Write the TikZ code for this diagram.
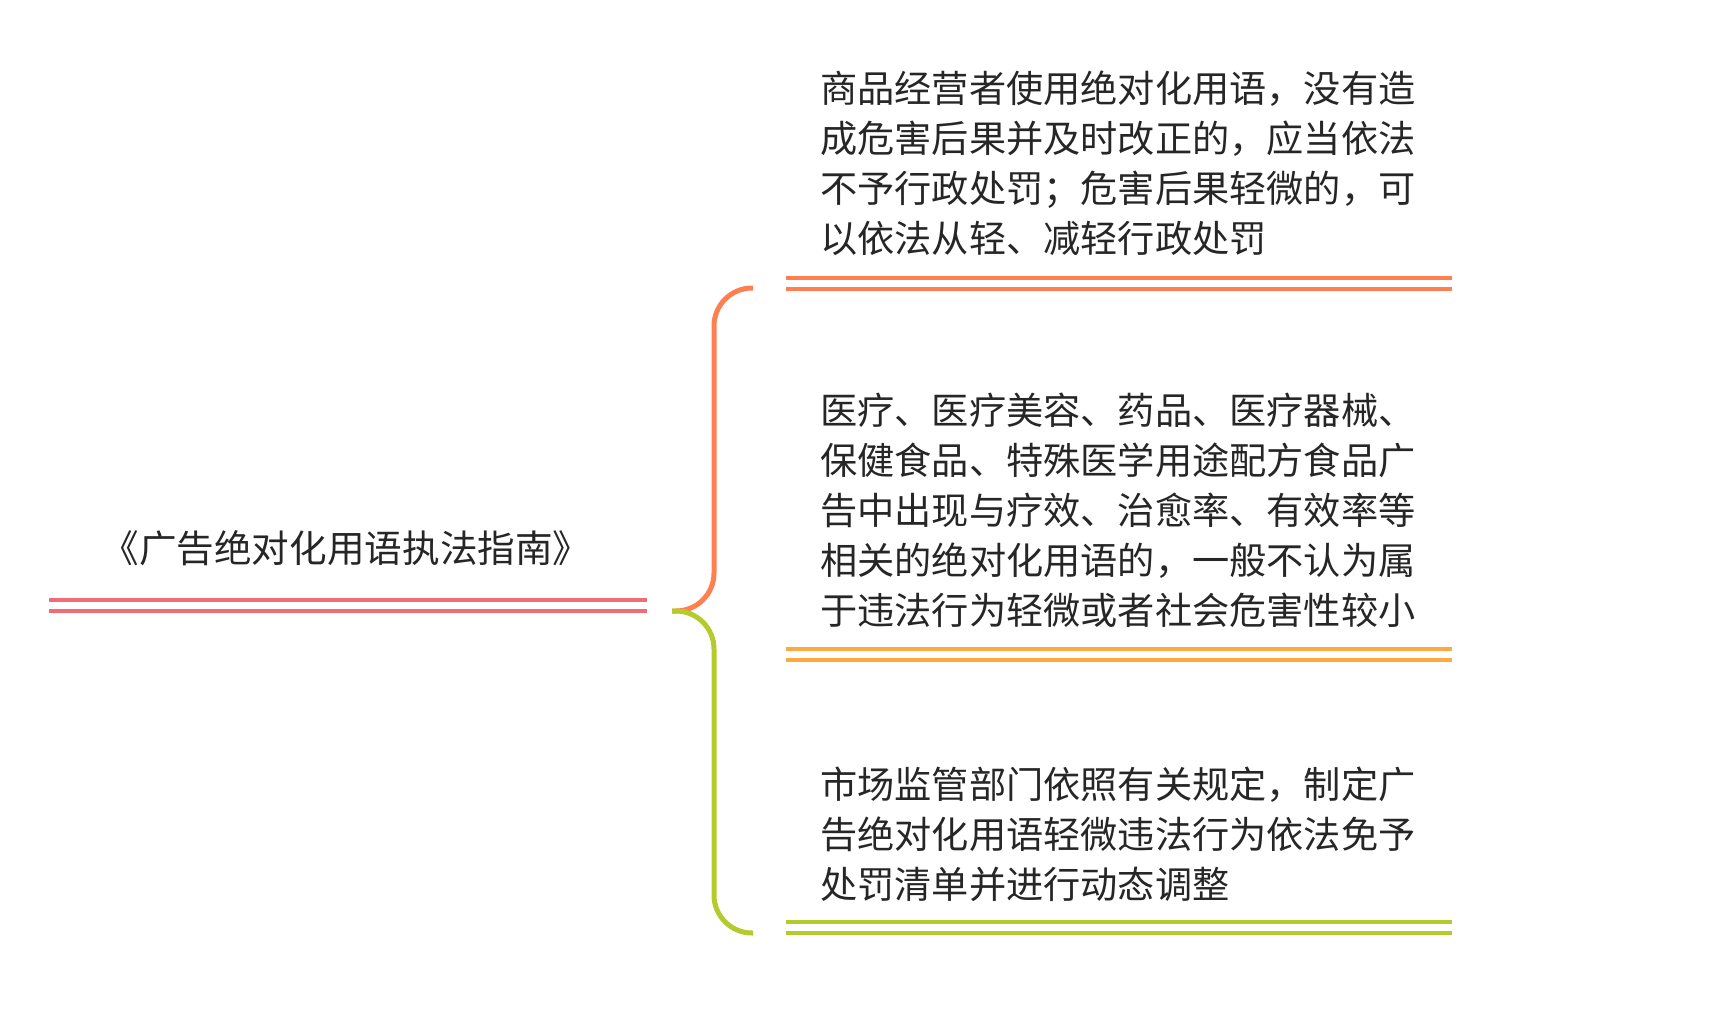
\documentclass[tikz,border=0pt]{standalone}
\usepackage{fontspec}
\newfontfamily\cjk{Noto Sans CJK SC}
\usetikzlibrary{calc}
\definecolor{RootClr}{HTML}{F16C74}
\definecolor{TopClr}{HTML}{FF7F50}
\definecolor{MidClr}{HTML}{FFA940}
\definecolor{LowClr}{HTML}{B5CA2B}

\begin{document}
\begin{tikzpicture}[x=1bp,y=-1bp,
  uline/.style={line width=4bp,double=white,double distance=7bp},
  brace/.style={line width=5bp,rounded corners=38bp},
  txt/.style={inner sep=0pt,anchor=north west,align=left,text=black!85,
    font=\cjk\fontsize{37.2bp}{50bp}\selectfont}]
\useasboundingbox (0,0) rectangle (1729,1022);

\coordinate (rootA) at (49,605.5);
\coordinate (rootB) at (647,605.5);
\coordinate (tip) at (672,611);
\coordinate (topEnd) at (753,288);
\coordinate (lowEnd) at (753,933);

\node[txt,anchor=center,font=\cjk\fontsize{37.6bp}{50bp}\selectfont] (root) at (346,548) {《广告绝对化用语执法指南》};
\draw[uline,RootClr] (rootA) -- (rootB);

\node[txt] (rule1) at (820,71) {商品经营者使用绝对化用语，没有造\\成危害后果并及时改正的，应当依法\\不予行政处罚；危害后果轻微的，可\\以依法从轻、减轻行政处罚};
\node[txt] (rule2) at (820,393) {医疗、医疗美容、药品、医疗器械、\\保健食品、特殊医学用途配方食品广\\告中出现与疗效、治愈率、有效率等\\相关的绝对化用语的，一般不认为属\\于违法行为轻微或者社会危害性较小};
\node[txt] (rule3) at (820,767) {市场监管部门依照有关规定，制定广\\告绝对化用语轻微违法行为依法免予\\处罚清单并进行动态调整};

\draw[uline,TopClr] (786,283) -- (1452,283);
\draw[uline,MidClr] (786,654.5) -- (1452,654.5);
\draw[uline,LowClr] (786,927.5) -- (1452,927.5);

\draw[brace,TopClr] (tip) -- (714,611) -- (714,288) -- (topEnd);
\draw[brace,LowClr] (tip) -- (714,611) -- (714,933) -- (lowEnd);

\end{tikzpicture}
\end{document}
